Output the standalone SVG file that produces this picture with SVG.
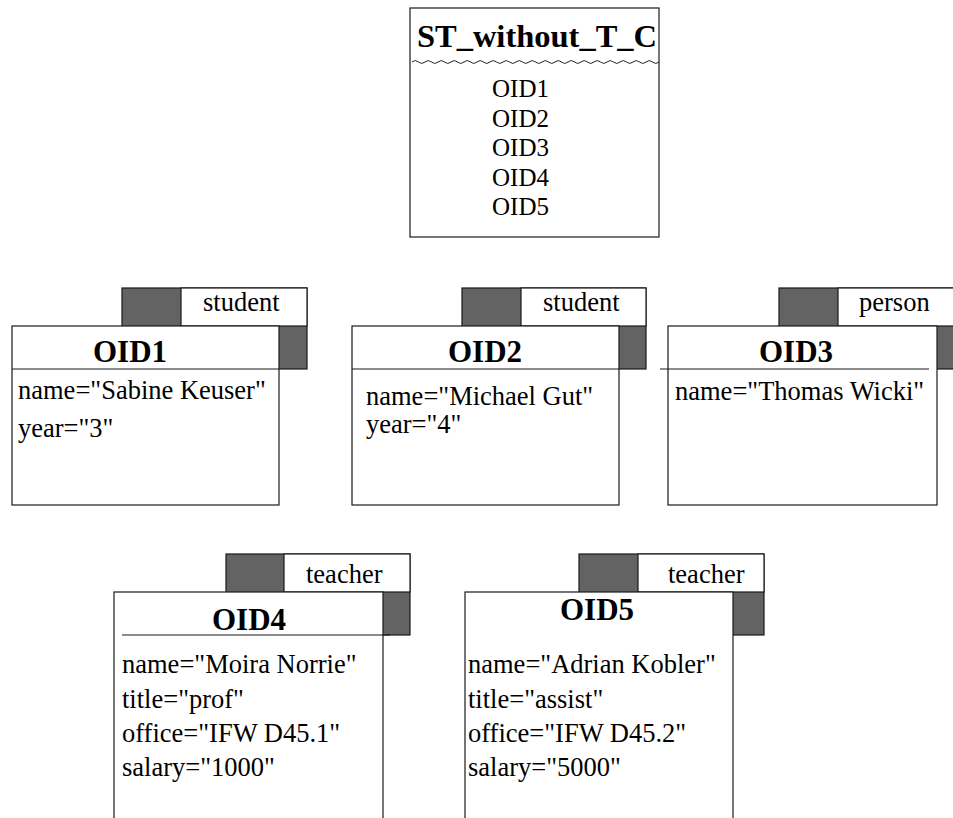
<svg xmlns="http://www.w3.org/2000/svg" width="953" height="818" viewBox="0 0 953 818">
  <style>
    .frame { fill: #ffffff; stroke: #1a1a1a; stroke-width: 1.2; }
    .shade { fill: #636363; stroke: #1a1a1a; stroke-width: 1.2; }
    .rule { stroke: #1a1a1a; stroke-width: 1.2; fill: none; }
    .wave { stroke: #222222; stroke-width: 1; fill: none; }
    .title { font-family: "Liberation Serif", "Times New Roman", serif; font-weight: bold; font-size: 31px; fill: #000; }
    .big { font-family: "Liberation Serif", "Times New Roman", serif; font-weight: bold; font-size: 32.5px; fill: #000; }
    .attr { font-family: "Liberation Serif", "Times New Roman", serif; font-size: 26.5px; fill: #000; }
    .tag { font-family: "Liberation Serif", "Times New Roman", serif; font-size: 26.5px; fill: #000; }
    .oid { font-family: "Liberation Serif", "Times New Roman", serif; font-size: 25px; fill: #000; }
  </style>

  <!-- Collection object listing its members -->
  <g id="st_without_t_c">
    <rect class="frame" x="410" y="8" width="249" height="229"/>
    <text class="big" x="537" y="47" text-anchor="middle">ST_without_T_C</text>
    <path class="wave" d="M412,62 q3.25,-3 6.5,0 t6.5,0 t6.5,0 t6.5,0 t6.5,0 t6.5,0 t6.5,0 t6.5,0 t6.5,0 t6.5,0 t6.5,0 t6.5,0 t6.5,0 t6.5,0 t6.5,0 t6.5,0 t6.5,0 t6.5,0 t6.5,0 t6.5,0 t6.5,0 t6.5,0 t6.5,0 t6.5,0 t6.5,0 t6.5,0 t6.5,0 t6.5,0 t6.5,0 t6.5,0 t6.5,0 t6.5,0 t6.5,0 t6.5,0 t6.5,0 t6.5,0 t6.5,0 t6.5,0"/>
    <text class="oid" x="492" y="97">OID1</text>
    <text class="oid" x="492" y="126.5">OID2</text>
    <text class="oid" x="492" y="156">OID3</text>
    <text class="oid" x="492" y="185.5">OID4</text>
    <text class="oid" x="492" y="215">OID5</text>
  </g>

  <!-- OID1 : student -->
  <g id="oid1">
    <rect class="shade" x="122" y="288" width="185" height="81"/>
    <rect class="frame" x="181" y="288" width="126" height="38"/>
    <text class="tag" x="203" y="311">student</text>
    <rect class="frame" x="12" y="326" width="267" height="179"/>
    <line class="rule" x1="12" y1="369" x2="279" y2="369"/>
    <text class="title" x="130" y="362" text-anchor="middle">OID1</text>
    <text class="attr" x="18" y="399">name="Sabine Keuser"</text>
    <text class="attr" x="18" y="437">year="3"</text>
  </g>

  <!-- OID2 : student -->
  <g id="oid2">
    <rect class="shade" x="462" y="288" width="184" height="81"/>
    <rect class="frame" x="521" y="288" width="125" height="38"/>
    <text class="tag" x="543" y="311">student</text>
    <rect class="frame" x="352" y="326" width="267" height="179"/>
    <line class="rule" x1="352" y1="369" x2="619" y2="369"/>
    <text class="title" x="485" y="362" text-anchor="middle">OID2</text>
    <text class="attr" x="366" y="405">name="Michael Gut"</text>
    <text class="attr" x="366" y="433">year="4"</text>
  </g>

  <!-- OID3 : person -->
  <g id="oid3">
    <rect class="shade" x="779" y="288" width="190" height="81"/>
    <rect class="frame" x="838" y="288" width="131" height="38"/>
    <text class="tag" x="859" y="311">person</text>
    <rect class="frame" x="668" y="326" width="269" height="179"/>
    <line class="rule" x1="660" y1="369" x2="929" y2="369"/>
    <text class="title" x="796" y="362" text-anchor="middle">OID3</text>
    <text class="attr" x="675" y="400">name="Thomas Wicki"</text>
  </g>

  <!-- OID4 : teacher -->
  <g id="oid4">
    <rect class="shade" x="226" y="554" width="184" height="81"/>
    <rect class="frame" x="284" y="554" width="126" height="38"/>
    <text class="tag" x="306" y="583">teacher</text>
    <rect class="frame" x="114" y="592" width="269" height="240"/>
    <line class="rule" x1="122" y1="635" x2="390" y2="635"/>
    <text class="title" x="249" y="630" text-anchor="middle">OID4</text>
    <text class="attr" x="122" y="673">name="Moira Norrie"</text>
    <text class="attr" x="122" y="708">title="prof"</text>
    <text class="attr" x="122" y="742">office="IFW D45.1"</text>
    <text class="attr" x="122" y="776">salary="1000"</text>
  </g>

  <!-- OID5 : teacher -->
  <g id="oid5">
    <rect class="shade" x="579" y="554" width="185" height="81"/>
    <rect class="frame" x="638" y="554" width="126" height="38"/>
    <text class="tag" x="668" y="583">teacher</text>
    <rect class="frame" x="465" y="592" width="268" height="240"/>
    <text class="title" x="597" y="620" text-anchor="middle">OID5</text>
    <text class="attr" x="468" y="673">name="Adrian Kobler"</text>
    <text class="attr" x="468" y="708">title="assist"</text>
    <text class="attr" x="468" y="742">office="IFW D45.2"</text>
    <text class="attr" x="468" y="776">salary="5000"</text>
  </g>

  <g id="connectors"></g>
</svg>
